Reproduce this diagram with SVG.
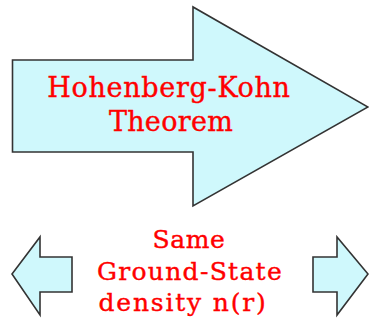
<svg xmlns="http://www.w3.org/2000/svg" width="369" height="323" viewBox="0 0 369 323">
<style>
.arrow{fill:#cff8fc;stroke:#333;stroke-width:1.6;stroke-linejoin:miter}
.t1{font-family:"DejaVu Serif","Liberation Serif",serif;font-size:27px;fill:#ff0000;stroke:#ff0000;stroke-width:0.4;text-anchor:middle}
.t2{font-family:"DejaVu Serif","Liberation Serif",serif;font-size:25px;fill:#ff0000;stroke:#ff0000;stroke-width:0.4;text-anchor:middle}
</style>
<rect width="369" height="323" fill="#fff"/>
<g id="hk-arrow">
<polygon class="arrow" points="12.5,60 193,60 193,7 368,107 193,206 193,152 12.5,152"/>
<text class="t1" x="169" y="97" letter-spacing="0.7">Hohenberg-Kohn</text>
<text class="t1" x="171" y="131" letter-spacing="0.3">Theorem</text>
</g>
<g id="left-arrow">
<polygon class="arrow" points="72,257 40,257 40,237 12,274 40,315 40,292 72,292"/>
</g>
<g id="right-arrow">
<polygon class="arrow" points="313,257 337,257 337,237 368,274 337,315 337,292 313,292"/>
</g>
<g id="label">
<text class="t2" x="189" y="248" letter-spacing="0.6">Same</text>
<text class="t2" x="190" y="280" letter-spacing="1.3">Ground-State</text>
<text class="t2" x="183" y="311" letter-spacing="1.8">density n(r)</text>
</g>
</svg>
